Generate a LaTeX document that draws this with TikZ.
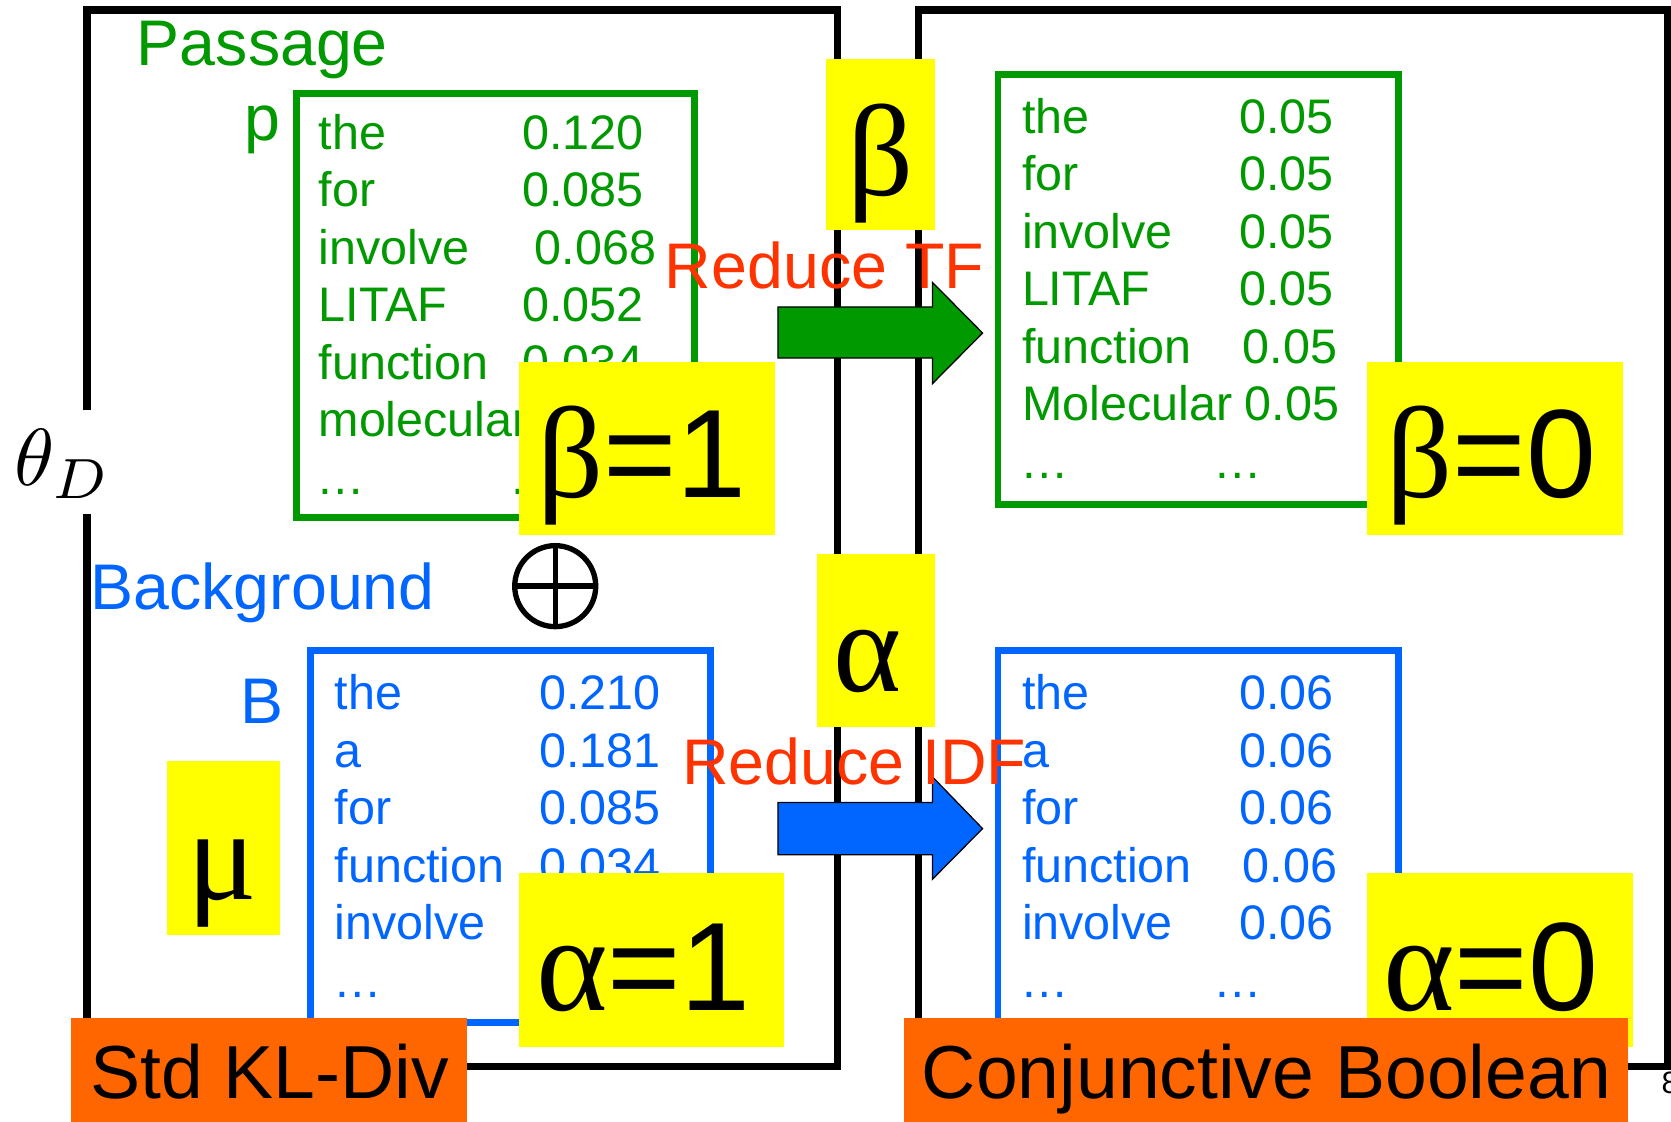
\documentclass[tikz,border=0pt]{standalone}
\usepackage{fontspec}
\setmainfont{Liberation Sans}
\newfontfamily\grkfont{Liberation Serif}
\newcommand\myfs[1]{\fontsize{#1}{#1}\selectfont}
\definecolor{pgreen}{RGB}{0,153,0}
\definecolor{pblue}{RGB}{0,102,255}
\definecolor{pred}{RGB}{255,51,0}
\definecolor{pyellow}{RGB}{255,255,0}
\definecolor{porange}{RGB}{255,102,0}
\begin{document}
\begin{tikzpicture}[x=1pt,y=-1pt,
  frameline/.style={draw=black,line width=7pt},
  boxg/.style={draw=pgreen,line width=6.5pt},
  boxb/.style={draw=pblue,line width=6.5pt},
  ybox/.style={fill=pyellow},
  obox/.style={fill=porange},
  entry/.style={anchor=base west,inner sep=0pt,outer sep=0pt,font=\myfs{45.5}},
  lbl/.style={anchor=base west,inner sep=0pt,outer sep=0pt,font=\myfs{60.5}},
  big/.style={anchor=base west,inner sep=0pt,outer sep=0pt,font=\myfs{118}},
  grk/.style={anchor=base west,inner sep=0pt,outer sep=0pt,font=\grkfont\myfs{122}},
  tag/.style={anchor=base west,inner sep=0pt,outer sep=0pt,font=\myfs{70.5}},
  blockarrow/.style={draw=black,line width=1.2pt,line join=miter}]
\useasboundingbox (0,0) rectangle (1568,1052);
\fill[white] (0,0) rectangle (1568,1052);

% frames
\draw[frameline] (81.6,385) -- (81.6,9.5) -- (786,9.5) -- (786,1001) -- (81.6,1001) -- (81.6,482);
\draw[frameline] (862,9.5) rectangle (1565,1001);

% passage
\node[lbl,pgreen] (passage) at (128.5,61) {Passage};
\node[lbl,pgreen] (plbl) at (229,132) {p};
\draw[boxg] (278.5,87.5) rectangle (651.5,486);
\node[entry,pgreen] (gl1) at (299,140) {the};
\node[entry,pgreen] (gl2) at (299,194) {for};
\node[entry,pgreen] (gl3) at (299,248) {involve};
\node[entry,pgreen] (gl4) at (299,302) {LITAF};
\node[entry,pgreen] (gl5) at (299,356) {function};
\node[entry,pgreen] (gl6) at (299,410) {molecular};
\node[entry,pgreen] (gl7) at (297,464) {…};
\node[entry,pgreen] (gv1) at (490,140) {0.120};
\node[entry,pgreen] (gv2) at (490,194) {0.085};
\node[entry,pgreen] (gv3) at (502,248) {0.068};
\node[entry,pgreen] (gv4) at (490,302) {0.052};
\node[entry,pgreen] (gv5) at (490,356) {0.034};
\node[entry,pgreen] (gv7) at (478,464) {…};

% right green
\draw[boxg] (936.5,69.5) rectangle (1312,473.5);
\node[entry,pgreen] (gr1) at (959,125) {the};
\node[entry,pgreen] (gr2) at (959,179) {for};
\node[entry,pgreen] (gr3) at (959,233) {involve};
\node[entry,pgreen] (gr4) at (959,287) {LITAF};
\node[entry,pgreen] (gr5) at (959,341) {function};
\node[entry,pgreen] (gr6) at (959,395) {Molecular};
\node[entry,pgreen] (gr7) at (958,449) {…};
\node[entry,pgreen] (grv1) at (1163,125) {0.05};
\node[entry,pgreen] (grv2) at (1163,179) {0.05};
\node[entry,pgreen] (grv3) at (1163,233) {0.05};
\node[entry,pgreen] (grv4) at (1163,287) {0.05};
\node[entry,pgreen] (grv5) at (1166,341) {0.05};
\node[entry,pgreen] (grv6) at (1168,395) {0.05};
\node[entry,pgreen] (grv7) at (1139,449) {…};

% background
\node[lbl,pblue] (backgr) at (85,572) {Background};
\node[lbl,pblue] (blbl) at (226,679) {B};
\draw[boxb] (291.5,610.5) rectangle (666.5,959.5);
\node[entry,pblue] (bl1) at (314,666) {the};
\node[entry,pblue] (bl2) at (314,720) {a};
\node[entry,pblue] (bl3) at (314,774) {for};
\node[entry,pblue] (bl4) at (314,828) {function};
\node[entry,pblue] (bl5) at (314,882) {involve};
\node[entry,pblue] (bl6) at (313,936) {…};
\node[entry,pblue] (blv1) at (506,666) {0.210};
\node[entry,pblue] (blv2) at (506,720) {0.181};
\node[entry,pblue] (blv3) at (506,774) {0.085};
\node[entry,pblue] (blv4) at (506,828) {0.034};

% right blue
\draw[boxb] (936.5,610.5) rectangle (1312,985);
\node[entry,pblue] (br1) at (959,666) {the};
\node[entry,pblue] (br2) at (959,720) {a};
\node[entry,pblue] (br3) at (959,774) {for};
\node[entry,pblue] (br4) at (959,828) {function};
\node[entry,pblue] (br5) at (959,882) {involve};
\node[entry,pblue] (br6) at (958,936) {…};
\node[entry,pblue] (brv1) at (1163,666) {0.06};
\node[entry,pblue] (brv2) at (1163,720) {0.06};
\node[entry,pblue] (brv3) at (1163,774) {0.06};
\node[entry,pblue] (brv4) at (1166,828) {0.06};
\node[entry,pblue] (brv5) at (1163,882) {0.06};
\node[entry,pblue] (brv6) at (1139,936) {…};

% block arrows
\draw[blockarrow,fill=pgreen] (730,288) -- (875,288) -- (875,265) -- (922,312.5) -- (875,360) -- (875,336) -- (730,336) -- cycle;
\draw[blockarrow,fill=pblue] (730,753) -- (875,753) -- (875,729) -- (922,777.5) -- (875,825) -- (875,802) -- (730,802) -- cycle;
\node[lbl,pred] (redtf) at (624,271) {Reduce TF};
\node[lbl,pred] (redidf) at (640,736) {Reduce IDF};

% yellow boxes
\fill[ybox] (775,55) rectangle (877,216);
\node[grk] (betasym) at (795,183) {β};
\fill[ybox] (767,520) rectangle (877,682);
\node[grk] (alphasym) at (782,649) {α};
\fill[ybox] (157,714) rectangle (263,877);
\node[grk] (musym) at (176,844) {μ};
\fill[ybox] (487,340) rectangle (727,502);
\node[big] (beta1) at (504,467) {{\grkfont\myfs{122}β}=1};
\fill[ybox] (1283,340) rectangle (1523,502);
\node[big] (beta0) at (1301,467) {{\grkfont\myfs{122}β}=0};
\fill[ybox] (487,819) rectangle (736,982);
\node[big] (alpha1) at (503,948) {{\grkfont\myfs{128}α}=1};
\fill[ybox] (1283,819) rectangle (1532,982);
\node[big] (alpha0) at (1298,948) {{\grkfont\myfs{128}α}=0};

% oplus
\node[circle,draw=black,line width=5pt,minimum size=76pt,inner sep=0pt] (oplus) at (521,550) {};
\draw[line width=5pt] (oplus.west) -- (oplus.east);
\draw[line width=5pt] (oplus.north) -- (oplus.south);

% theta_D
\node[anchor=base west,inner sep=0pt,scale=7.6] (thetaD) at (12,456) {$\theta_D$};

% orange tags
\fill[obox] (67,955) rectangle (438,1060);
\node[tag] (stdkl) at (84.5,1031) {Std KL-Div};
\fill[obox] (848,955) rectangle (1528,1060);
\node[tag] (conjb) at (865,1031) {Conjunctive Boolean};

% page number (cut off)
\node[anchor=base west,inner sep=0pt,font=\myfs{29}] (pagenum) at (1559,1026) {8};
\end{tikzpicture}
\end{document}
